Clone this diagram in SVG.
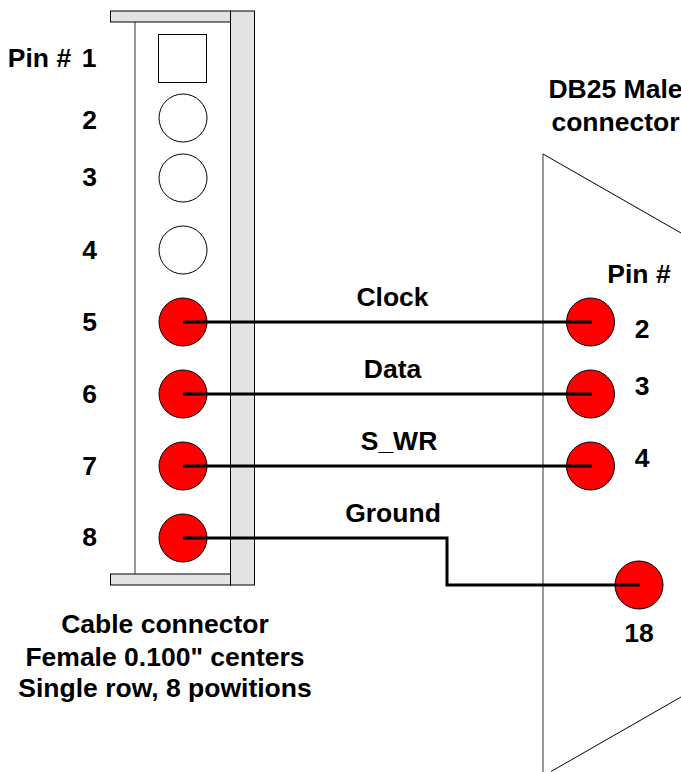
<svg xmlns="http://www.w3.org/2000/svg" width="681" height="772" viewBox="0 0 681 772">
<style>
text{font-family:"Liberation Sans",Arial,sans-serif;font-weight:700;font-size:26.5px;fill:#000;text-anchor:middle}
.b{fill:#e3e3e3;stroke:#000;stroke-width:1}
.g{fill:none;stroke:#777;stroke-width:1.5}
.t{fill:none;stroke:#000;stroke-width:1}
.o{fill:#fff;stroke:#000;stroke-width:1}
.r{fill:#f00;stroke:#000;stroke-width:1}
.w{fill:none;stroke:#000;stroke-width:3}
</style>
<rect width="681" height="772" fill="#fff"/>
<g id="cable-connector">
<path class="g" d="M135 22V574"/>
<rect class="b" x="110.500" y="11" width="120" height="11"/>
<rect class="b" x="110.500" y="574" width="120" height="11"/>
<rect class="b" x="230.500" y="11" width="24" height="574"/>
</g>
<g id="db25-shell">
<path class="g" d="M543 154V772"/>
<path class="t" d="M543 154L681 233M551 771.500L681 697"/>
</g>
<g id="pin-1"><rect class="o" x="158.500" y="34.500" width="48" height="48"/></g>
<g id="pin-2"><circle class="o" cx="183" cy="118" r="24"/></g>
<g id="pin-3"><circle class="o" cx="183" cy="178" r="24"/></g>
<g id="pin-4"><circle class="o" cx="183" cy="250" r="24"/></g>
<g id="pin-5"><circle class="r" cx="183" cy="322" r="24"/></g>
<g id="pin-6"><circle class="r" cx="183" cy="394" r="24"/></g>
<g id="pin-7"><circle class="r" cx="183" cy="466" r="24"/></g>
<g id="pin-8"><circle class="r" cx="183" cy="538" r="24"/></g>
<g id="db-pin-2"><circle class="r" cx="590.500" cy="322" r="24"/></g>
<g id="db-pin-3"><circle class="r" cx="590.500" cy="394" r="24"/></g>
<g id="db-pin-4"><circle class="r" cx="590.500" cy="466" r="24"/></g>
<g id="db-pin-18"><circle class="r" cx="639" cy="585" r="24"/></g>
<g id="connectors">
<path class="w" d="M183 322H592"/>
<path class="w" d="M183 394H592"/>
<path class="w" d="M183 466H592"/>
<path class="w" d="M183 538H447V585H640"/>
</g>
<g id="labels">
<text x="39.500" y="67">Pin #</text>
<text x="89" y="67">1</text>
<text x="89.500" y="129">2</text>
<text x="89.500" y="186">3</text>
<text x="89.500" y="259">4</text>
<text x="89.500" y="331">5</text>
<text x="89.500" y="403">6</text>
<text x="89.500" y="475">7</text>
<text x="89.500" y="546">8</text>
<text x="615.500" y="98">DB25 Male</text>
<text x="615.500" y="131">connector</text>
<text x="639" y="283">Pin #</text>
<text x="642" y="338">2</text>
<text x="642" y="395">3</text>
<text x="642" y="467">4</text>
<text x="639" y="642">18</text>
<text x="392.500" y="306">Clock</text>
<text x="392.500" y="378">Data</text>
<text x="399" y="450">S_WR</text>
<text x="393" y="522">Ground</text>
<text x="165" y="633">Cable connector</text>
<text x="165" y="666">Female 0.100" centers</text>
<text x="165" y="697">Single row, 8 powitions</text>
</g>
</svg>
